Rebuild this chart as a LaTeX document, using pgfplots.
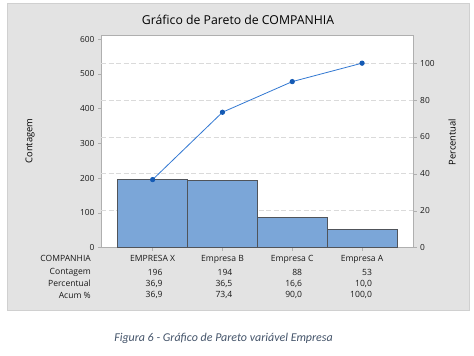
\documentclass[border=0pt]{standalone}
\usepackage{pgfplots}
\pgfplotsset{compat=1.18}
\usepackage{fontspec}
\setmainfont{Open Sans}
\newfontfamily\capfont{Carlito}
\definecolor{panel}{RGB}{227,227,227}
\definecolor{panelborder}{RGB}{208,208,208}
\definecolor{barblue}{RGB}{123,166,216}
\definecolor{bargrey}{RGB}{80,84,90}
\definecolor{lineblue}{RGB}{50,120,210}
\definecolor{markblue}{RGB}{20,90,180}
\definecolor{framegrey}{RGB}{175,175,175}
\definecolor{gridgrey}{RGB}{218,218,218}
\definecolor{capcolor}{RGB}{68,84,106}
\begin{document}
\begin{tikzpicture}[x=1bp,y=1bp]
\useasboundingbox (0,0) rectangle (474,355);
\fill[white] (0,0) rectangle (474,355);
\filldraw[fill=panel, draw=panelborder] (7,45) rectangle (469,352);
\pgfplotsset{
  common/.style={
    at={(101bp,107.3bp)}, anchor=south west, scale only axis,
    width=312.7bp, height=212bp,
    xmin=-0.74, xmax=3.74, ymin=0,
    /pgf/number format/assume math mode=true,
    tick label style={font=\fontsize{8.4}{9}\selectfont, text=black!90},
    tick align=outside, major tick length=3bp,
    tick style={color=framegrey, line width=0.5bp},
    axis line style={color=framegrey, line width=0.6bp},
  }
}
\begin{axis}[common,
  ymax=610,
  axis background/.style={fill=white},
  ytick={0,100,...,600}, ytick pos=left,
  xtick={0,1,2,3}, xtick pos=bottom,
  xticklabels={EMPRESA X, Empresa B, Empresa C, Empresa A},
  xticklabel style={yshift=-0.8bp, font=\fontsize{8.6}{9}\selectfont},
  extra y ticks={106.2,212.4,318.6,424.8,531},
  extra y tick labels={},
  extra y tick style={grid=major, major tick length=0pt,
    major grid style={dash pattern=on 5bp off 2.5bp, color=gridgrey, line width=0.8bp}},
  clip=false,
]
\addplot[ybar, bar width=1, bar shift=0pt, fill=barblue, draw=bargrey, line width=0.6bp]
  coordinates {(0,196) (1,194) (2,88) (3,53)};
\end{axis}
\begin{axis}[common,
  ymax=114.878,
  axis x line=none, axis y line*=right,
  ytick={0,20,...,100}, ytick pos=right,
  clip=false,
]
\addplot[color=lineblue, line width=0.8bp, mark=*, mark size=2.2bp,
  mark options={fill=markblue, draw=markblue}]
  coordinates {(0,36.9) (1,73.4) (2,90.0) (3,100.0)};
\end{axis}
% title and axis labels
\node[font=\fontsize{12.3}{14}\selectfont] at (238,335) {Gráfico de Pareto de COMPANHIA};
\node[rotate=90, font=\fontsize{9.4}{10}\selectfont] at (30,214) {Contagem};
\node[rotate=90, font=\fontsize{9.4}{10}\selectfont] at (452,213) {Percentual};
% table
\begin{scope}[every node/.style={font=\fontsize{8.6}{9}\selectfont, inner sep=0pt, anchor=east, text=black!90}]
\node at (91,97) {COMPANHIA};
\node at (91,82.7) {Contagem};
\node at (91,71.3) {Percentual};
\node at (91,60) {Acum \%};
\node at (162.7,82.7) {196};
\node at (232.5,82.7) {194};
\node at (302.3,82.7) {88};
\node at (372.1,82.7) {53};
\node at (162.7,71.3) {36,9};
\node at (232.5,71.3) {36,5};
\node at (302.3,71.3) {16,6};
\node at (372.1,71.3) {10,0};
\node at (162.7,60) {36,9};
\node at (232.5,60) {73,4};
\node at (302.3,60) {90,0};
\node at (372.1,60) {100,0};
\end{scope}
\node[font=\capfont\itshape\fontsize{12}{14}\selectfont, text=capcolor] at (223.5,17) {Figura 6 - Gráfico de Pareto variável Empresa};
\end{tikzpicture}
\end{document}
